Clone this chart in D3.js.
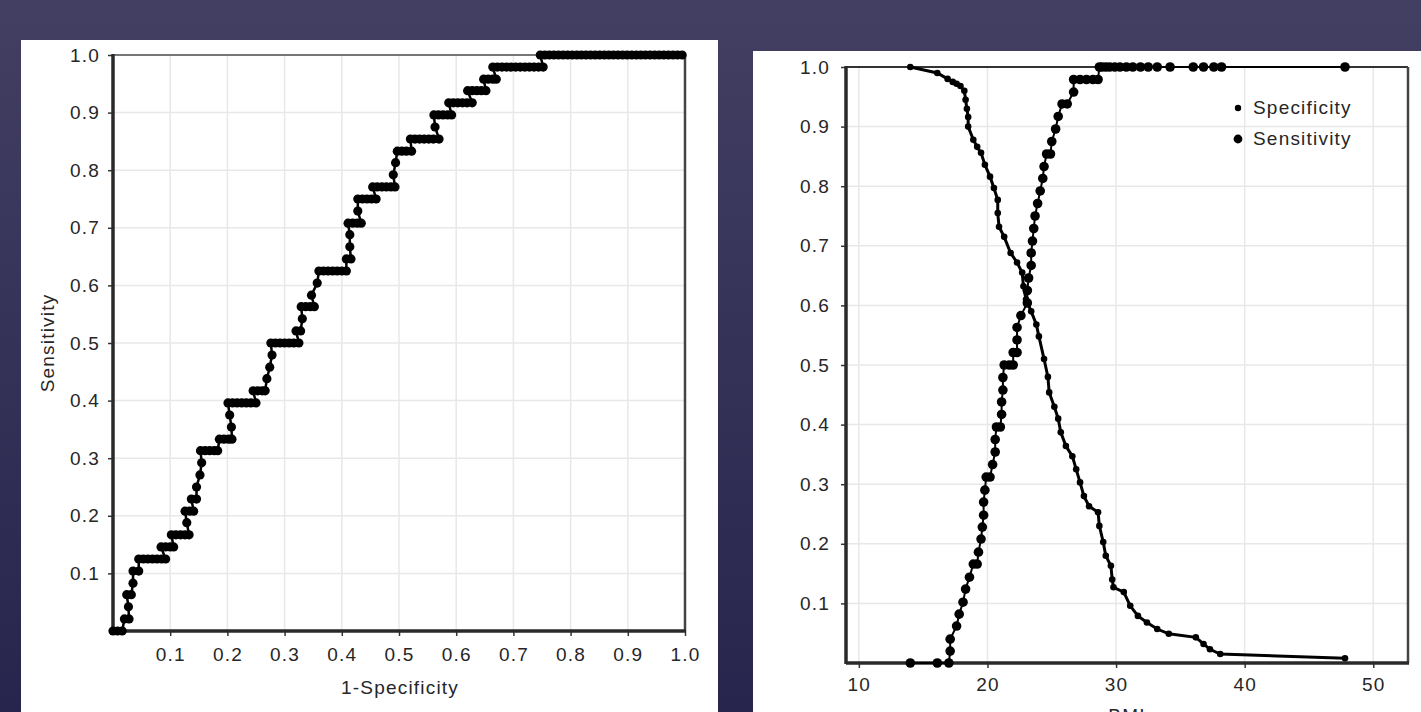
<!DOCTYPE html>
<html lang="en">
<head>
<meta charset="UTF-8">
<title>ROC curve and sensitivity / specificity against BMI</title>
<style>
  html, body { margin: 0; padding: 0; background: #2f2d55; overflow: hidden; }
  svg { display: block; }
  .tick text, .lbl { font-family: "Liberation Sans", Arial, sans-serif; font-size: 19px; fill: #262626; letter-spacing: 1.2px; }
  .tick line { stroke: #333; stroke-width: 1.5; }
  .grid { stroke: #e8e8e8; stroke-width: 1.5; }
</style>
<script src="https://cdn.jsdelivr.net/npm/d3@7"></script>
</head>
<body>
<svg id="chart" width="1421" height="712"></svg>
<script>
// ticks
const ROC_TICKS = [0.1, 0.2, 0.3, 0.4, 0.5, 0.6, 0.7, 0.8, 0.9, 1.0];
const BMI_TICKS = [10, 20, 30, 40, 50];
const VAL_TICKS = [0.1, 0.2, 0.3, 0.4, 0.5, 0.6, 0.7, 0.8, 0.9, 1.0];

// left panel: ROC points [1-specificity, sensitivity]
const ROC = [
  [0,0],[0.008,0],[0.016,0],
  [0.02,0.021],[0.028,0.021],[0.027,0.042],[0.024,0.063],[0.032,0.063],[0.035,0.083],
  [0.035,0.104],[0.045,0.104],
  [0.045,0.125],[0.053,0.125],[0.061,0.125],[0.069,0.125],[0.077,0.125],[0.085,0.125],[0.092,0.125],
  [0.084,0.146],[0.092,0.146],[0.1,0.146],[0.106,0.146],
  [0.102,0.167],[0.11,0.167],[0.118,0.167],[0.126,0.167],[0.133,0.167],
  [0.129,0.188],[0.126,0.208],[0.134,0.208],[0.141,0.208],[0.137,0.229],[0.146,0.229],
  [0.146,0.25],[0.152,0.271],[0.155,0.292],
  [0.153,0.313],[0.161,0.313],[0.169,0.313],[0.177,0.313],[0.183,0.313],
  [0.186,0.333],[0.194,0.333],[0.202,0.333],[0.208,0.333],
  [0.207,0.354],[0.204,0.375],
  [0.201,0.396],[0.209,0.396],[0.217,0.396],[0.225,0.396],[0.233,0.396],[0.241,0.396],[0.25,0.396],
  [0.245,0.417],[0.253,0.417],[0.261,0.417],[0.266,0.417],
  [0.269,0.438],[0.274,0.458],[0.278,0.479],
  [0.276,0.5],[0.284,0.5],[0.292,0.5],[0.3,0.5],[0.308,0.5],[0.316,0.5],[0.325,0.5],
  [0.32,0.521],[0.328,0.521],[0.331,0.542],
  [0.329,0.563],[0.337,0.563],[0.345,0.563],[0.352,0.563],
  [0.347,0.583],[0.357,0.604],
  [0.36,0.625],[0.368,0.625],[0.376,0.625],[0.384,0.625],[0.392,0.625],[0.4,0.625],[0.408,0.625],
  [0.408,0.646],[0.416,0.646],[0.414,0.667],[0.414,0.688],
  [0.411,0.708],[0.419,0.708],[0.427,0.708],[0.434,0.708],
  [0.428,0.729],
  [0.428,0.75],[0.436,0.75],[0.444,0.75],[0.452,0.75],[0.46,0.75],
  [0.454,0.771],[0.462,0.771],[0.47,0.771],[0.478,0.771],[0.486,0.771],[0.493,0.771],
  [0.49,0.792],[0.494,0.813],
  [0.497,0.833],[0.505,0.833],[0.513,0.833],[0.522,0.833],
  [0.52,0.854],[0.528,0.854],[0.536,0.854],[0.544,0.854],[0.552,0.854],[0.56,0.854],[0.57,0.854],
  [0.563,0.875],
  [0.561,0.896],[0.569,0.896],[0.577,0.896],[0.585,0.896],[0.592,0.896],
  [0.587,0.917],[0.595,0.917],[0.603,0.917],[0.611,0.917],[0.619,0.917],[0.628,0.917],
  [0.62,0.938],[0.628,0.938],[0.636,0.938],[0.644,0.938],[0.652,0.938],
  [0.648,0.958],[0.656,0.958],[0.664,0.958],[0.67,0.958],
  [0.664,0.979],[0.672,0.979],[0.68,0.979],[0.688,0.979],[0.696,0.979],[0.704,0.979],
  [0.712,0.979],[0.72,0.979],[0.728,0.979],[0.736,0.979],[0.744,0.979],[0.752,0.979],
  [0.747,1],[0.755,1],[0.763,1],[0.771,1],[0.779,1],[0.787,1],[0.795,1],[0.803,1],
  [0.811,1],[0.819,1],[0.827,1],[0.835,1],[0.843,1],[0.851,1],[0.859,1],[0.867,1],
  [0.875,1],[0.883,1],[0.891,1],[0.899,1],[0.907,1],[0.915,1],[0.923,1],[0.931,1],
  [0.939,1],[0.947,1],[0.955,1],[0.963,1],[0.971,1],[0.979,1],[0.987,1],[0.995,1]
];

// right panel: [BMI, value]
const SENSITIVITY = [
  [14.0,0],[16.1,0],[17.0,0],[17.1,0.02],[17.1,0.04],[17.6,0.062],[17.8,0.082],[18.1,0.102],
  [18.3,0.124],[18.6,0.144],[18.9,0.166],[19.2,0.166],[19.3,0.186],[19.5,0.208],[19.6,0.228],
  [19.7,0.248],[19.7,0.27],[19.8,0.29],[19.9,0.312],[20.2,0.312],[20.4,0.333],[20.6,0.354],
  [20.6,0.375],[20.7,0.396],[21.0,0.396],[21.1,0.417],[21.1,0.438],[21.2,0.458],[21.2,0.479],
  [21.3,0.5],[21.7,0.5],[22.0,0.5],[22.0,0.521],[22.3,0.521],[22.3,0.542],[22.3,0.563],
  [22.6,0.583],[23.1,0.604],[23.1,0.625],[23.2,0.646],[23.4,0.667],[23.4,0.688],[23.5,0.708],
  [23.6,0.729],[23.7,0.75],[23.9,0.771],[24.1,0.792],[24.3,0.813],[24.4,0.833],[24.6,0.854],
  [24.9,0.854],[25.0,0.875],[25.3,0.896],[25.5,0.917],[25.8,0.938],[26.2,0.938],[26.7,0.958],
  [26.7,0.979],[27.2,0.979],[27.7,0.979],[28.2,0.979],[28.6,0.979],
  [28.7,1],[28.9,1],[29.2,1],[29.5,1],[29.9,1],[30.3,1],[30.8,1],[31.3,1],[31.9,1],[32.5,1],
  [33.2,1],[34.2,1],[36.0,1],[36.8,1],[37.6,1],[38.2,1],[47.8,1]
];
const SPECIFICITY = [
  [14.0,1.0],[16.1,0.99],[16.9,0.98],[17.3,0.975],[17.6,0.972],[17.9,0.968],[18.2,0.96],
  [18.3,0.945],[18.4,0.93],[18.5,0.916],[18.5,0.9],[18.9,0.878],[19.2,0.866],[19.5,0.856],
  [19.8,0.836],[20.2,0.816],[20.5,0.797],[20.8,0.777],[20.8,0.755],[20.9,0.732],[21.3,0.715],
  [21.8,0.688],[22.3,0.672],[22.7,0.655],[22.8,0.632],[23.0,0.61],[23.4,0.59],[23.8,0.568],
  [24.0,0.548],[24.4,0.51],[24.7,0.48],[24.8,0.454],[25.2,0.43],[25.5,0.41],[25.7,0.387],
  [26.1,0.364],[26.6,0.347],[26.9,0.325],[27.2,0.303],[27.5,0.28],[27.9,0.263],[28.6,0.253],
  [28.7,0.23],[29.0,0.203],[29.2,0.18],[29.6,0.163],[29.7,0.14],[29.8,0.127],[30.6,0.119],
  [31.1,0.096],[31.7,0.079],[32.4,0.068],[33.2,0.057],[34.1,0.049],[36.2,0.043],[36.8,0.032],
  [37.3,0.023],[38.1,0.015],[47.8,0.008]
];
const LEGEND = ["Specificity", "Sensitivity"];

const svg = d3.select("#chart");

// background
const grad = svg.append("defs").append("linearGradient")
  .attr("id", "bg").attr("x1", 0).attr("y1", 0).attr("x2", 0).attr("y2", 1);
grad.append("stop").attr("offset", "0%").attr("stop-color", "#423f62");
grad.append("stop").attr("offset", "100%").attr("stop-color", "#27254d");
svg.append("rect").attr("width", 1421).attr("height", 712).attr("fill", "url(#bg)");

// white panels
svg.append("rect").attr("x", 21).attr("y", 40).attr("width", 697).attr("height", 680).attr("fill", "#fff");
svg.append("rect").attr("x", 753).attr("y", 51).attr("width", 680).attr("height", 670).attr("fill", "#fff");

function panel(o) {
  const g = svg.append("g");
  const [x0, x1] = o.x.range(), [y0, y1] = o.y.range();
  // grid
  o.xt.forEach(t => g.append("line").attr("class", "grid")
    .attr("x1", o.x(t)).attr("x2", o.x(t)).attr("y1", y0).attr("y2", y1));
  o.yt.forEach(t => g.append("line").attr("class", "grid")
    .attr("x1", x0).attr("x2", x1).attr("y1", o.y(t)).attr("y2", o.y(t)));
  // axes
  g.append("g").attr("transform", `translate(0,${y0})`)
    .call(d3.axisBottom(o.x).tickValues(o.xt).tickFormat(o.xf).tickSize(5).tickPadding(o.xpad))
    .call(a => a.select(".domain").remove());
  g.append("g").attr("transform", `translate(${x0},0)`)
    .call(d3.axisLeft(o.y).tickValues(o.yt).tickFormat(d3.format(".1f")).tickSize(5).tickPadding(o.ypad))
    .call(a => a.select(".domain").remove());
  // frame
  g.append("line").attr("x1", x0).attr("x2", x1).attr("y1", y1).attr("y2", y1)
    .attr("stroke", o.topColor).attr("stroke-width", 2);
  g.append("line").attr("x1", x1).attr("x2", x1).attr("y1", y1).attr("y2", y0)
    .attr("stroke", "#444").attr("stroke-width", 2.5);
  g.append("line").attr("x1", x0).attr("x2", x1 + 1).attr("y1", y0).attr("y2", y0)
    .attr("stroke", "#2a2a2a").attr("stroke-width", 3.5);
  g.append("line").attr("x1", x0).attr("x2", x0).attr("y1", y1 - 1).attr("y2", y0 + 1)
    .attr("stroke", "#2a2a2a").attr("stroke-width", 3.5);
  return g;
}

function series(g, x, y, data, r, w) {
  g.append("path").datum(data)
    .attr("fill", "none").attr("stroke", "#000").attr("stroke-width", w)
    .attr("d", d3.line().x(d => x(d[0])).y(d => y(d[1])));
  g.selectAll(null).data(data).join("circle")
    .attr("cx", d => x(d[0])).attr("cy", d => y(d[1])).attr("r", r).attr("fill", "#000");
}

// left: ROC
const xL = d3.scaleLinear([0, 1], [113, 685]);
const yL = d3.scaleLinear([0, 1], [631, 55]);
const gL = panel({ x: xL, y: yL, xt: ROC_TICKS, yt: ROC_TICKS, xf: d3.format(".1f"),
  xpad: 12, ypad: 8, topColor: "#777" });
series(gL, xL, yL, ROC, 4.6, 2.5);
svg.append("text").attr("class", "lbl").attr("text-anchor", "middle")
  .attr("x", 400).attr("y", 694).text("1-Specificity");
svg.append("text").attr("class", "lbl").attr("text-anchor", "middle")
  .attr("transform", "translate(54,343) rotate(-90)").text("Sensitivity");

// right: BMI
const xR = d3.scaleLinear([9, 52.7], [846, 1408]);
const yR = d3.scaleLinear([0, 1], [663, 67]);
const gR = panel({ x: xR, y: yR, xt: BMI_TICKS, yt: VAL_TICKS, xf: d3.format("d"),
  xpad: 10, ypad: 11, topColor: "#333" });
series(gR, xR, yR, SPECIFICITY, 3.3, 3);
series(gR, xR, yR, SENSITIVITY, 4.8, 2);
svg.append("text").attr("class", "lbl").attr("text-anchor", "middle")
  .attr("x", 1127).attr("y", 722).text("BMI");

// legend
const leg = svg.append("g");
LEGEND.forEach((name, i) => {
  leg.append("circle").attr("cx", 1238).attr("cy", 108 + i * 31).attr("r", i === 0 ? 3.2 : 4.4).attr("fill", "#000");
  leg.append("text").attr("class", "lbl").attr("x", 1253).attr("y", 114 + i * 31).text(name);
});
</script>
</body>
</html>
